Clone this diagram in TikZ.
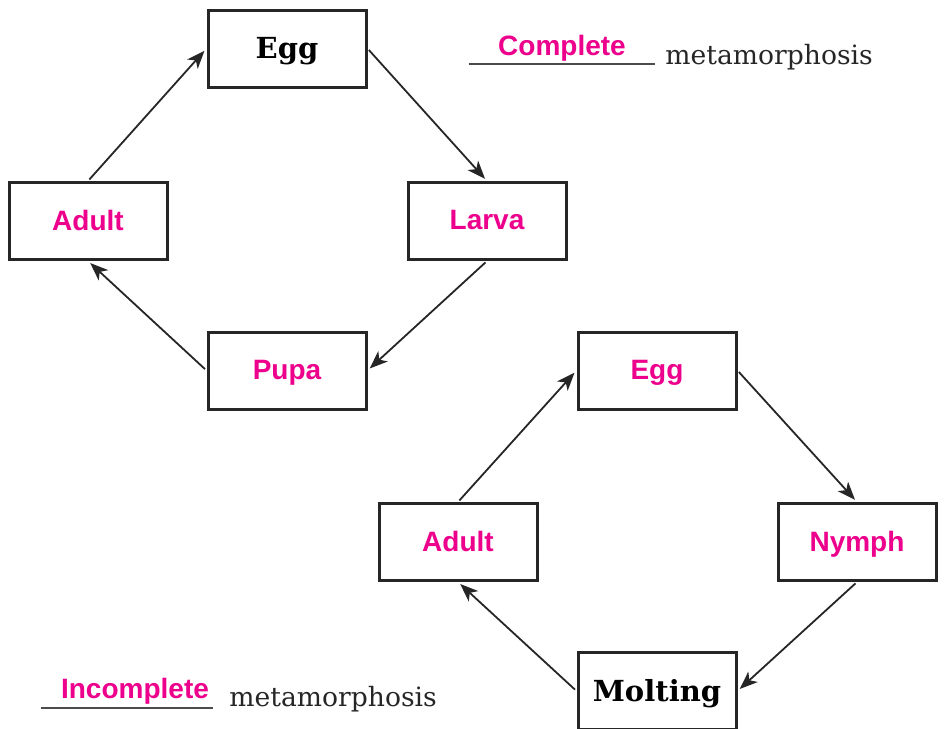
\documentclass[tikz,border=0pt]{standalone}
\usepackage{fontspec}
\setmainfont{DejaVu Serif}
\setsansfont{Liberation Sans}
\usetikzlibrary{arrows.meta}
\definecolor{stagepink}{RGB}{236,0,140}

\begin{document}
\begin{tikzpicture}[x=0.5pt, y=-0.5pt,
  stage/.style={draw=black!85, line width=1.5pt, minimum width=79pt, minimum height=38.5pt, inner sep=0pt, text depth=1pt},
  answer/.style={text=stagepink, font=\sffamily\bfseries\fontsize{14}{16}\selectfont},
  given/.style={font=\bfseries\fontsize{14.5}{16}\selectfont},
  blank/.style={minimum width=93pt, inner sep=0pt, anchor=base},
  word/.style={font=\fontsize{13.3}{15}\selectfont, text=black!85, anchor=base west, inner sep=0pt},
  cycle/.style={-{Stealth[length=9pt,width=7pt,inset=2.5pt]}, line width=0.9pt, black!85, shorten >=1.5pt, shorten <=1pt}]
\useasboundingbox (0,0) rectangle (947,728);
% complete metamorphosis
\node[stage, given] (egg) at (287,48.5) {Egg};
\node[stage, answer] (larva) at (487,221) {Larva};
\node[stage, answer] (pupa) at (287,370.5) {Pupa};
\node[stage, answer] (adult) at (88,221) {Adult};
\draw[cycle] (egg.east) -- (larva.north);
\draw[cycle] (larva.south) -- (pupa.east);
\draw[cycle] (pupa.west) -- (adult.south);
\draw[cycle] (adult.north) -- (egg.west);
\node[blank, answer] (complete) at (562,55) {Complete};
\draw[black!70, line width=0.8pt] ([yshift=-4.5pt]complete.base -| complete.west) -- ([yshift=-4.5pt]complete.base -| complete.east);
\node[word] (meta1) at (665,64) {metamorphosis};
% incomplete metamorphosis
\node[stage, answer] (egg2) at (657,370.5) {Egg};
\node[stage, answer] (nymph) at (857,542) {Nymph};
\node[stage, given] (molting) at (657,691) {Molting};
\node[stage, answer] (adult2) at (458,542) {Adult};
\draw[cycle] (egg2.east) -- (nymph.north);
\draw[cycle] (nymph.south) -- (molting.east);
\draw[cycle] (molting.west) -- (adult2.south);
\draw[cycle] (adult2.north) -- (egg2.west);
\node[blank, answer, minimum width=86pt] (incomplete) at (127,698) {\hspace*{8pt}Incomplete};
\draw[black!70, line width=0.8pt] ([yshift=-5pt]incomplete.base -| incomplete.west) -- ([yshift=-5pt]incomplete.base -| incomplete.east);
\node[word] (meta2) at (229,706) {metamorphosis};
\end{tikzpicture}
\end{document}
